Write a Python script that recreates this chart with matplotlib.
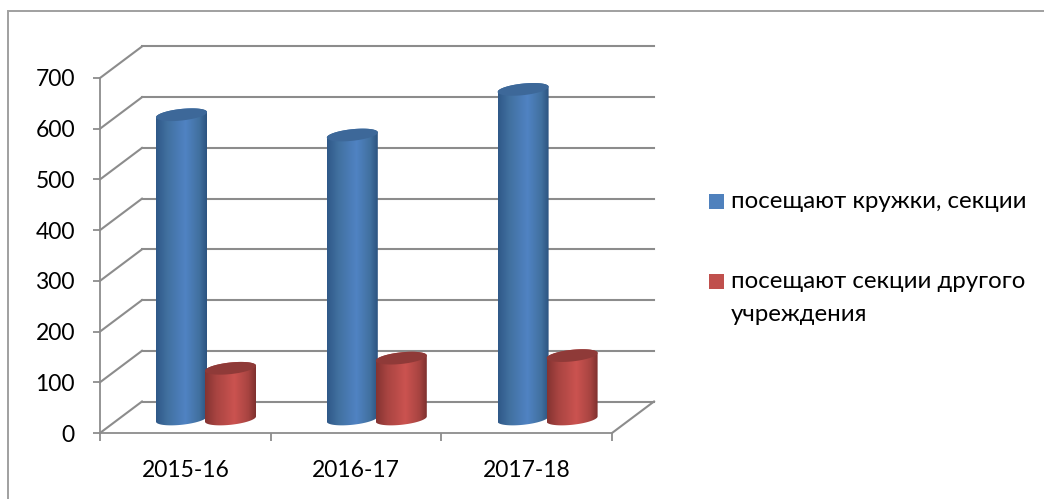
import numpy as np
import matplotlib
matplotlib.use('Agg')
import matplotlib.pyplot as plt
from matplotlib.colors import LinearSegmentedColormap
from matplotlib.patches import Polygon, Rectangle

plt.rcParams['font.family'] = ['Lato', 'Noto Sans', 'DejaVu Sans']

categories = ['2015-16', '2016-17', '2017-18']
series_names = ['посещают кружки, секции', 'посещают секции другого\nучреждения']
circles = [600, 560, 650]
other_sections = [100, 120, 125]
y_ticks = [0, 100, 200, 300, 400, 500, 600, 700]

W, H = 1044, 499
fig = plt.figure(figsize=(W / 100, H / 100), dpi=100)
ax = fig.add_axes([100 / W, 1 - 433 / H, 512 / W, 355 / H])
ax.set_xlim(0, 3)
ax.set_ylim(0, 700)

# пиксели -> единицы осей
px_x = 3 / 512
px_y = 700 / 355
depth_x = 42 * px_x
depth_y = 31.5 * px_y
grid_color = '#8c8c8c'

# рамка
fig.add_artist(Rectangle((8 / W, -0.1), 1.1, 1 - 11 / H + 0.1, transform=fig.transFigure,
                         fill=False, edgecolor='#a0a0a0', linewidth=1.4))

# стенки и сетка
for v in y_ticks:
    ax.plot([depth_x, 3 + depth_x], [v + depth_y, v + depth_y], color=grid_color,
            lw=1.5, clip_on=False, zorder=1)
    ax.plot([0, depth_x], [v, v + depth_y], color=grid_color, lw=1.5, clip_on=False, zorder=1)
ax.plot([3, 3 + depth_x], [0, depth_y], color=grid_color, lw=1.5, clip_on=False, zorder=1)

blue_map = LinearSegmentedColormap.from_list('b', [(0, '#2f5888'), (0.22, '#41709f'), (0.58, '#5083c3'),
                                                   (0.85, '#41709f'), (1, '#2c5380')])
red_map = LinearSegmentedColormap.from_list('r', [(0, '#843331'), (0.22, '#a84441'), (0.58, '#cb5350'),
                                                  (0.85, '#a84441'), (1, '#7e302e')])


def cylinder(left_px, value, cmap, top_color, z):
    a = 25.5 * px_x
    b = 5.8 * px_y
    tilt = 2.6 * px_y
    x0 = left_px * px_x
    cx = x0 + a
    base = 14 * px_y
    top = base + value
    t1 = np.linspace(np.pi, 2 * np.pi, 60)
    t2 = np.linspace(0, np.pi, 60)
    bottom_arc = np.c_[cx + a * np.cos(t1), base + tilt * np.cos(t1) + b * np.sin(t1)]
    top_arc = np.c_[cx + a * np.cos(t2), top + tilt * np.cos(t2) + b * np.sin(t2)]
    body = Polygon(np.r_[bottom_arc, top_arc], closed=True, transform=ax.transData,
                   facecolor='none', edgecolor='none')
    ax.add_patch(body)
    grad = np.linspace(0, 1, 256).reshape(1, -1)
    im = ax.imshow(grad, cmap=cmap, extent=[x0, x0 + 2 * a, 0, top + 20], aspect='auto',
                   zorder=z, clip_on=True)
    im.set_clip_path(body)
    t = np.linspace(0, 2 * np.pi, 120)
    ax.fill(cx + a * np.cos(t), top + tilt * np.cos(t) + b * np.sin(t), color=top_color,
            lw=0, zorder=z + 0.1, clip_on=False)


# столбцы
for i in range(len(categories)):
    left = 56 + i * 170.8
    cylinder(left, circles[i], blue_map, '#3d6899', 3)
    cylinder(left + 49, other_sections[i], red_map, '#8f3a38', 4)

ax.set_xlim(0, 3)
ax.set_ylim(0, 700)
ax.set_facecolor('none')

# оси
for s in ['top', 'right']:
    ax.spines[s].set_visible(False)
for s in ['left', 'bottom']:
    ax.spines[s].set_color(grid_color)
    ax.spines[s].set_linewidth(1.3)
ax.set_xticks([0, 1, 2, 3])
ax.set_xticklabels([])
ax.set_xticks([0.5, 1.5, 2.5], minor=True)
ax.set_xticklabels(categories, minor=True, fontsize=16.5, color='black')
ax.tick_params(axis='x', which='major', length=5.5, width=1.3, color=grid_color)
ax.tick_params(axis='x', which='minor', length=0, pad=19.5)
ax.set_yticks(y_ticks)
ax.tick_params(axis='y', length=5, width=1.3, color=grid_color, labelsize=16.5, pad=13)

# легенда
for name, col, y_px in zip(series_names, ['#4f81bd', '#c0504d'], [194, 274]):
    fig.add_artist(Rectangle((709 / W, 1 - (y_px + 15) / H), 15 / W, 15 / H,
                             transform=fig.transFigure, color=col, lw=0))
    fig.text(731 / W, 1 - (y_px - 2.5) / H, name, fontsize=17.3, color='black', va='top',
             linespacing=1.65)

fig.savefig('out.png', dpi=100)
